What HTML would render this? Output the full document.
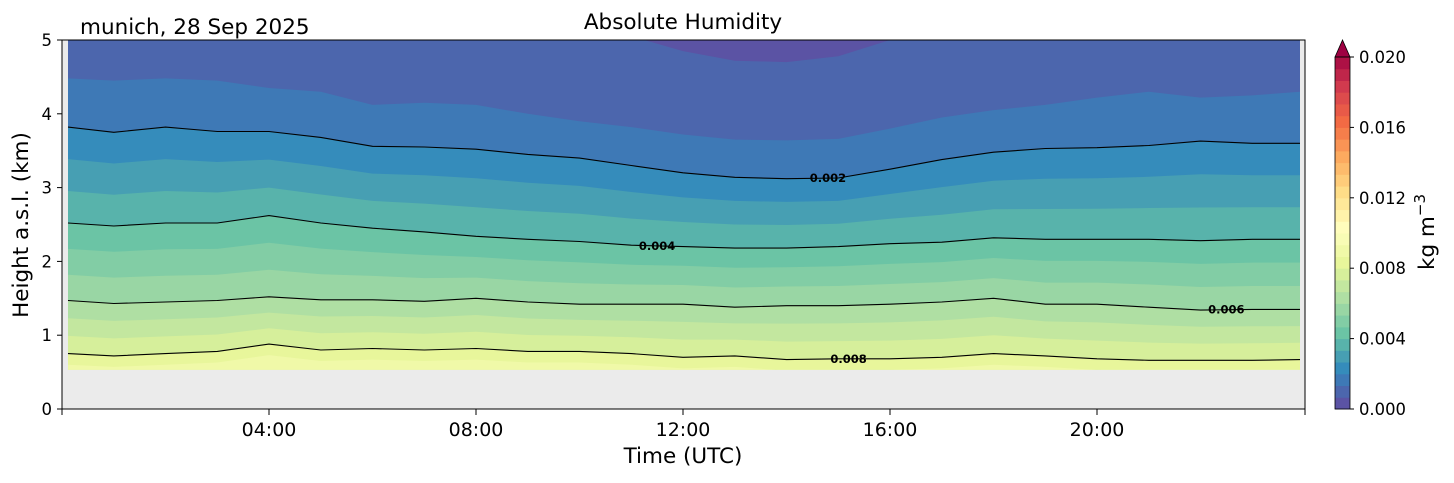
<!DOCTYPE html>
<html><head><meta charset="utf-8"><style>
body{margin:0;background:#fff;}
svg text{font-family:"DejaVu Sans","Liberation Sans",sans-serif;}
</style></head><body>
<svg id="chart" width="1454" height="478" xmlns="http://www.w3.org/2000/svg">
<defs><clipPath id="pc"><rect x="62" y="40" width="1243" height="369"/></clipPath></defs>
<g id="fills" clip-path="url(#pc)"></g>
<g id="lines" clip-path="url(#pc)"></g>
<g id="axes"></g>
<g id="cbar"></g>
<text x="683" y="29" style="font-size:21.5px" text-anchor="middle">Absolute Humidity</text>
<text x="80" y="34" style="font-size:21.5px">munich, 28 Sep 2025</text>
<text x="683" y="463" style="font-size:21.5px" text-anchor="middle">Time (UTC)</text>
<text transform="translate(28,225) rotate(-90)" style="font-size:21.5px" text-anchor="middle">Height a.s.l. (km)</text>
<text transform="translate(1434,232) rotate(-90)" style="font-size:21.5px" text-anchor="middle">kg m<tspan dy="-9" style="font-size:15px">−3</tspan></text>
</svg>
<script>
const times=[0,1,2,3,4,5,6,7,8,9,10,11,12,13,14,15,16,17,18,19,20,21,22,23,24];
const h1=[5.2,5.2,5.2,5.2,5.2,5.2,5.2,5.2,5.2,5.2,5.2,5.05,4.85,4.72,4.7,4.78,5.0,5.2,5.2,5.2,5.2,5.2,5.2,5.2,5.2];
const h2=[4.48,4.45,4.48,4.45,4.35,4.3,4.12,4.15,4.12,4.0,3.9,3.82,3.72,3.65,3.64,3.66,3.8,3.95,4.05,4.12,4.22,4.3,4.22,4.25,4.3];
const c002=[3.82,3.75,3.82,3.76,3.76,3.68,3.56,3.55,3.52,3.45,3.4,3.3,3.2,3.14,3.12,3.13,3.25,3.38,3.48,3.53,3.54,3.57,3.63,3.6,3.6];
const c004=[2.52,2.48,2.52,2.52,2.62,2.52,2.45,2.4,2.34,2.3,2.27,2.22,2.2,2.18,2.18,2.2,2.24,2.26,2.32,2.3,2.3,2.3,2.28,2.3,2.3];
const c006=[1.47,1.43,1.45,1.47,1.52,1.48,1.48,1.46,1.5,1.45,1.42,1.42,1.42,1.38,1.4,1.4,1.42,1.45,1.5,1.42,1.42,1.38,1.34,1.35,1.35];
const c008=[0.75,0.72,0.75,0.78,0.88,0.8,0.82,0.8,0.82,0.78,0.78,0.75,0.7,0.72,0.67,0.68,0.68,0.7,0.75,0.72,0.68,0.66,0.66,0.66,0.67];
const xTicks=["04:00","08:00","12:00","16:00","20:00"];
const xTickHours=[4,8,12,16,20];
const yTicks=[0,1,2,3,4,5];
const cbTicks=["0.000","0.004","0.008","0.012","0.016","0.020"];
const labels=[["0.002",14.8],["0.004",11.5],["0.006",22.5],["0.008",15.2]];

const X=t=>62+t*51.75, Y=h=>409-h*73.8;
const NS="http://www.w3.org/2000/svg";
function mk(tag,attrs,parent){const e=document.createElementNS(NS,tag);for(const k in attrs)e.setAttribute(k,attrs[k]);parent.appendChild(e);return e;}
const sp=["#5e4fa2","#3288bd","#66c2a5","#abdda4","#e6f598","#ffffbf","#fee08b","#fdae61","#f46d43","#d53e4f","#9e0142"];
function hex(c){return [1,3,5].map(i=>parseInt(c.substr(i,2),16));}
function cmap(v){v=Math.max(0,Math.min(1,v));const p=v*10,i=Math.min(9,Math.floor(p)),f=p-i;const a=hex(sp[i]),b=hex(sp[i+1]);return `rgb(${a.map((x,j)=>Math.round(x+(b[j]-x)*f)).join(",")})`;}
const NB=30;
const bandColor=k=>cmap((k+0.2)/NB);
const mix=(a,b,f)=>a.map((v,i)=>v+(b[i]-v)*f);
const lv={1:h1,2:h2,3:c002,6:c004,9:c006,12:c008};
lv[4]=mix(c002,c004,1/3);lv[5]=mix(c002,c004,2/3);
lv[7]=mix(c004,c006,1/3);lv[8]=mix(c004,c006,2/3);
lv[10]=mix(c006,c008,1/3);lv[11]=mix(c006,c008,2/3);
lv[13]=c008.map(v=>v-0.15);
const fills=document.getElementById('fills');
const x0=68,x1=1300,hb=0.53;
const bg=mk('rect',{x:x0,y:40,width:x1-x0,height:Y(hb)-40,fill:bandColor(0)},fills);


function lineXY(arr){return times.map((t,i)=>[Math.max(x0,Math.min(x1,X(t))),Y(arr[i])]);}
for(let k=1;k<=13;k++){
  const pts=lineXY(lv[k]);
  let d="M"+x0+","+Y(hb)+" "+pts.map(p=>"L"+p[0].toFixed(1)+","+p[1].toFixed(1)).join(" ")+" L"+x1+","+Y(hb)+"Z";
  const p=mk('path',{d:d,fill:bandColor(k)},fills);
  
  
}
const g1=mk('rect',{x:62,y:Y(hb),width:1243,height:409-Y(hb),fill:"#ebebeb"},fills);


const g2=mk('rect',{x:62,y:40,width:x0-62,height:369,fill:"#ebebeb"},fills);


const g3=mk('rect',{x:x1,y:40,width:1305-x1,height:369,fill:"#ebebeb"},fills);


const lines=document.getElementById('lines');
[c002,c004,c006,c008].forEach((arr,i)=>{
  const pts=lineXY(arr);
  const l=mk('polyline',{points:pts.map(p=>p[0].toFixed(1)+","+p[1].toFixed(1)).join(" "),fill:"none",stroke:"#000","stroke-width":1.1},lines);
  
  
  const t=labels[i][1];const j=Math.floor(t);const h=arr[j]+(arr[j+1]-arr[j])*(t-j);
  const tx=mk('text',{x:X(t),y:Y(h)+4,style:"font-size:11.5px","font-weight":"bold","text-anchor":"middle"},lines);
  tx.textContent=labels[i][0];
  
  
});
const axes=document.getElementById('axes');
mk('rect',{x:62,y:40,width:1243,height:369,fill:"none",stroke:"#000","stroke-width":1},axes);
xTickHours.forEach((hr,i)=>{
  mk('line',{x1:X(hr),x2:X(hr),y1:409,y2:415,stroke:"#000"},axes);
  const t=mk('text',{x:X(hr),y:436,style:"font-size:19px","text-anchor":"middle"},axes);
  t.textContent=xTicks[i];
  
  
});
mk('line',{x1:62,x2:62,y1:409,y2:415,stroke:"#000"},axes);
mk('line',{x1:1305,x2:1305,y1:409,y2:415,stroke:"#000"},axes);
yTicks.forEach(v=>{
  mk('line',{x1:57,x2:62,y1:Y(v),y2:Y(v),stroke:"#000"},axes);
  const t=mk('text',{x:52,y:Y(v)+6,style:"font-size:16.5px","text-anchor":"end"},axes);
  t.textContent=v;
  
  
});
const cb=document.getElementById('cbar');
const cbTop=57,cbBot=409,cbx=1335,cbw=15;
for(let k=0;k<NB;k++){
  const y0=cbBot-(k+1)*(cbBot-cbTop)/NB;
  mk('rect',{x:cbx,y:y0,width:cbw,height:(cbBot-cbTop)/NB+0.5,fill:bandColor(k)},cb);
}
mk('path',{d:`M${cbx},${cbTop} L${cbx+cbw/2},40 L${cbx+cbw},${cbTop}Z`,fill:"#9e0142",stroke:"#000","stroke-width":0.8},cb);
mk('rect',{x:cbx,y:cbTop,width:cbw,height:cbBot-cbTop,fill:"none",stroke:"#000","stroke-width":0.8},cb);
cbTicks.forEach((s,i)=>{
  const y=cbBot-i*(cbBot-cbTop)/5;
  mk('line',{x1:cbx+cbw,x2:cbx+cbw+4,y1:y,y2:y,stroke:"#000"},cb);
  const t=mk('text',{x:1359,y:y+6,style:"font-size:16.4px"},cb);
  t.textContent=s;
  
  
});
</script>
</body></html>
